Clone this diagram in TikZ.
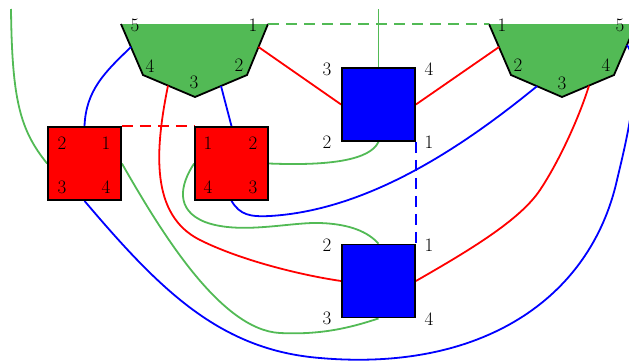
\documentclass[tikz,border=0pt]{standalone}
\usetikzlibrary{calc}
\definecolor{pgreen}{RGB}{82,186,85}
\begin{document}
\begin{tikzpicture}[x=1pt,y=-1pt,
  wire/.style={line width=1.8pt},
  gw/.style={wire,draw=pgreen},
  rw/.style={wire,draw=red},
  bw/.style={wire,draw=blue},
  dashw/.style={dash pattern=on 11pt off 7pt},
  rsq/.style={draw=black,fill=red,line width=1.8pt,minimum size=73pt,inner sep=0pt},
  bsq/.style={draw=black,fill=blue,line width=1.8pt,minimum size=73pt,inner sep=0pt},
  lbl/.style={inner sep=0pt,font=\fontsize{19}{20}\selectfont},
  outline/.style={draw=black,line width=1.8pt,line join=miter}
]
\useasboundingbox (0,0) rectangle (629,362);
\clip (0,0) rectangle (629,362);

% pentagons
\coordinate (la) at (121,24); \coordinate (lb) at (143,75); \coordinate (lc) at (195,97);
\coordinate (ld) at (247,75); \coordinate (le) at (268,24);
\fill[pgreen] (la) -- (lb) -- (lc) -- (ld) -- (le) -- cycle;
\draw[outline] (la) -- (lb) -- (lc) -- (ld) -- (le);
\coordinate (ra) at (489,24); \coordinate (rb) at (511,75); \coordinate (rc) at (562,97);
\coordinate (rd) at (614,75); \coordinate (re) at (636,24);
\fill[pgreen] (ra) -- (rb) -- (rc) -- (rd) -- (re) -- cycle;
\draw[outline] (ra) -- (rb) -- (rc) -- (rd) -- (re);

% pentagon ports
\coordinate (LP5) at (131,47); \coordinate (LP1) at (258.5,47);
\coordinate (LP4) at (168,85.6); \coordinate (LP2) at (221,86);
\coordinate (RP1) at (499,47); \coordinate (RP2) at (537,86.2);
\coordinate (RP4) at (589,85.6); \coordinate (RP5) at (627,45);
\coordinate (ftop1) at (11,9); \coordinate (ftop2) at (378.5,9);

% squares
\node[rsq] (L) at (84.5,163.5) {};
\node[rsq] (M) at (231.5,163.5) {};
\node[bsq] (TB) at (378.5,104.5) {};
\node[bsq] (BB) at (378.5,281) {};

% connectors
\draw[gw,dashw] (le) -- (ra);
\draw[gw] (ftop2) -- (TB.north);
\draw[gw] (ftop1) .. controls (12,100) and (20,130) .. (L.west);
\draw[bw] (LP5) .. controls (105,72) and (86,90) .. (L.north);
\draw[bw] (LP2) -- (M.north);
\draw[rw,dashw] (L.north east) -- (M.north west);
\draw[rw] (LP1) -- (TB.west);
\draw[rw] (LP4) .. controls (155,150) and (150,215) .. (200,240)
                .. controls (240,260) and (300,275) .. (BB.west);
\draw[rw] (TB.east) -- (RP1);
\draw[bw,dashw] (TB.south east) -- (BB.north east);
\draw[gw] (M.east) .. controls (330,166) and (370,160) .. (TB.south);
\draw[bw] (M.south) .. controls (240,215) and (250,217) .. (270,216)
                    .. controls (370,210) and (465,145) .. (RP2);
\draw[gw] (M.west) .. controls (180,185) and (175,210) .. (205,222)
                   .. controls (240,235) and (290,222) .. (320,223)
                   .. controls (350,224) and (368,232) .. (BB.north);
\draw[gw] (L.east) .. controls (160,230) and (220,330) .. (280,333)
                   .. controls (320,335) and (350,328) .. (BB.south);
\draw[bw] (L.south) .. controls (160,290) and (220,350) .. (320,358)
                    .. controls (480,372) and (590,300) .. (617,180)
                    .. controls (624,150) and (645,70) .. (RP5);
\draw[rw] (BB.east) .. controls (470,250) and (520,220) .. (540,190)
                    .. controls (560,160) and (580,115) .. (RP4);

% redraw square outlines over wires
\node[rsq] at (L) {};
\node[rsq] at (M) {};
\node[bsq] at (TB) {};
\node[bsq] at (BB) {};

% labels
\node[lbl] (l5) at (135,25) {5};
\node[lbl] (l1) at (253,25) {1};
\node[lbl] (l4) at (150,66) {4};
\node[lbl] (l3) at (194,82) {3};
\node[lbl] (l2) at (239,65) {2};
\node[lbl] (r1) at (502,25) {1};
\node[lbl] (r5) at (620,25) {5};
\node[lbl] (r2) at (518,65) {2};
\node[lbl] (r3) at (562,83) {3};
\node[lbl] (r4) at (606,65) {4};
\node[lbl] (t3) at (327,69) {3};
\node[lbl] (t4) at (429,69) {4};
\node[lbl] (t2) at (327,142) {2};
\node[lbl] (t1) at (429,142) {1};
\node[lbl] (b2) at (327,245) {2};
\node[lbl] (b1) at (429,245) {1};
\node[lbl] (b3) at (327,318) {3};
\node[lbl] (b4) at (429,319) {4};
\node[lbl] (L2) at (62,143) {2};
\node[lbl] (L1) at (106,143) {1};
\node[lbl] (L3) at (62,187) {3};
\node[lbl] (L4) at (106,187) {4};
\node[lbl] (M1) at (208,143) {1};
\node[lbl] (M2) at (253,143) {2};
\node[lbl] (M4) at (208,187) {4};
\node[lbl] (M3) at (253,187) {3};
\end{tikzpicture}
\end{document}
